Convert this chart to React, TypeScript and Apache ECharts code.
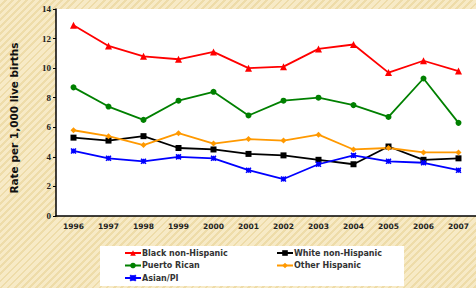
import React, { useEffect, useRef } from "react";
import * as echarts from "echarts";

const years = ["1996", "1997", "1998", "1999", "2000", "2001", "2002", "2003", "2004", "2005", "2006", "2007"];
const blackNonHispanic = [12.9, 11.5, 10.8, 10.6, 11.1, 10.0, 10.1, 11.3, 11.6, 9.7, 10.5, 9.8];
const whiteNonHispanic = [5.3, 5.1, 5.4, 4.6, 4.5, 4.2, 4.1, 3.8, 3.5, 4.7, 3.8, 3.9];
const puertoRican = [8.7, 7.4, 6.5, 7.8, 8.4, 6.8, 7.8, 8.0, 7.5, 6.7, 9.3, 6.3];
const otherHispanic = [5.8, 5.4, 4.8, 5.6, 4.9, 5.2, 5.1, 5.5, 4.5, 4.6, 4.3, 4.3];
const asianPI = [4.4, 3.9, 3.7, 4.0, 3.9, 3.1, 2.5, 3.5, 4.1, 3.7, 3.6, 3.1];

const starPath = "path://M0,0 L10,10 M10,0 L0,10 M5,0 L5,10 M0,5 L10,5";
const sans = "DejaVu Sans, Verdana, sans-serif";

export default function App() {
  const ref = useRef<HTMLDivElement>(null);
  useEffect(() => {
    if (!ref.current) return;
    const chart = echarts.init(ref.current, undefined, { renderer: "svg" });
    const mk = (name: string, data: number[], color: string, symbol: string, size: number) => ({
      name,
      type: "line",
      data,
      symbol,
      symbolSize: size,
      lineStyle: { color, width: 1.8 },
      itemStyle: { color, borderColor: color, borderWidth: symbol === starPath ? 1.5 : 0 },
      z: 3,
    });
    const legendText = { fontSize: 8, fontWeight: "bold", fontFamily: sans, color: "#333", padding: [0, 0, 0, -4] };
    chart.setOption({
      animation: false,
      backgroundColor: "transparent",
      grid: {
        left: 55,
        right: -3,
        top: 9,
        bottom: 72,
        show: true,
        backgroundColor: "#ffffff",
        borderWidth: 0,
      },
      xAxis: {
        type: "category",
        data: years,
        boundaryGap: true,
        axisLine: { show: true, lineStyle: { color: "#000", width: 1.5 } },
        axisTick: { show: false },
        axisLabel: {
          margin: 6,
          fontSize: 7.5,
          fontWeight: "bold",
          fontFamily: sans,
          color: "#222",
        },
      },
      yAxis: {
        type: "value",
        min: 0,
        max: 14,
        interval: 2,
        splitLine: { show: false },
        axisLine: { show: true, lineStyle: { color: "#000", width: 1.5 } },
        axisTick: { show: true, length: 3, lineStyle: { color: "#000", width: 1 } },
        axisLabel: {
          margin: 5,
          fontSize: 9,
          fontWeight: "bold",
          fontFamily: "Liberation Serif, Times New Roman, serif",
          color: "#222",
        },
        name: "Rate per 1,000 live births",
        nameLocation: "middle",
        nameGap: 37,
        nameTextStyle: {
          fontSize: 10.5,
          fontWeight: "bold",
          fontFamily: sans,
          color: "#111",
          padding: [0, 11, 0, 0],
        },
      },
      graphic: [
        {
          type: "rect",
          left: 100,
          top: 246,
          shape: { width: 304, height: 40 },
          style: { fill: "#ffffff" },
          z: -1,
        },
      ],
      legend: [
        {
          data: ["Black non-Hispanic", "Puerto Rican", "Asian/PI"],
          orient: "vertical",
          left: 124,
          top: 249,
          padding: 0,
          itemWidth: 16,
          itemHeight: 7,
          itemGap: 4.5,
          textStyle: legendText,
        },
        {
          data: ["White non-Hispanic", "Other Hispanic"],
          orient: "vertical",
          left: 276,
          top: 249,
          padding: 0,
          itemWidth: 16,
          itemHeight: 7,
          itemGap: 4.5,
          textStyle: legendText,
        },
      ],
      series: [
        mk("Black non-Hispanic", blackNonHispanic, "#ff0000", "triangle", 7),
        mk("White non-Hispanic", whiteNonHispanic, "#000000", "rect", 6),
        mk("Puerto Rican", puertoRican, "#008000", "circle", 6),
        mk("Other Hispanic", otherHispanic, "#ff9900", "diamond", 6),
        mk("Asian/PI", asianPI, "#0000ff", starPath, 5),
      ],
    });
    return () => chart.dispose();
  }, []);
  return (
    <div
      style={{
        position: "fixed",
        left: 0,
        top: 0,
        width: 476,
        height: 288,
        background:
          "repeating-linear-gradient(135deg, #f7eac6 0px, #f7eac6 3px, #eedca9 3px, #eedca9 5px)",
      }}
    >
      <div ref={ref} style={{ width: 476, height: 288 }} />
    </div>
  );
}
